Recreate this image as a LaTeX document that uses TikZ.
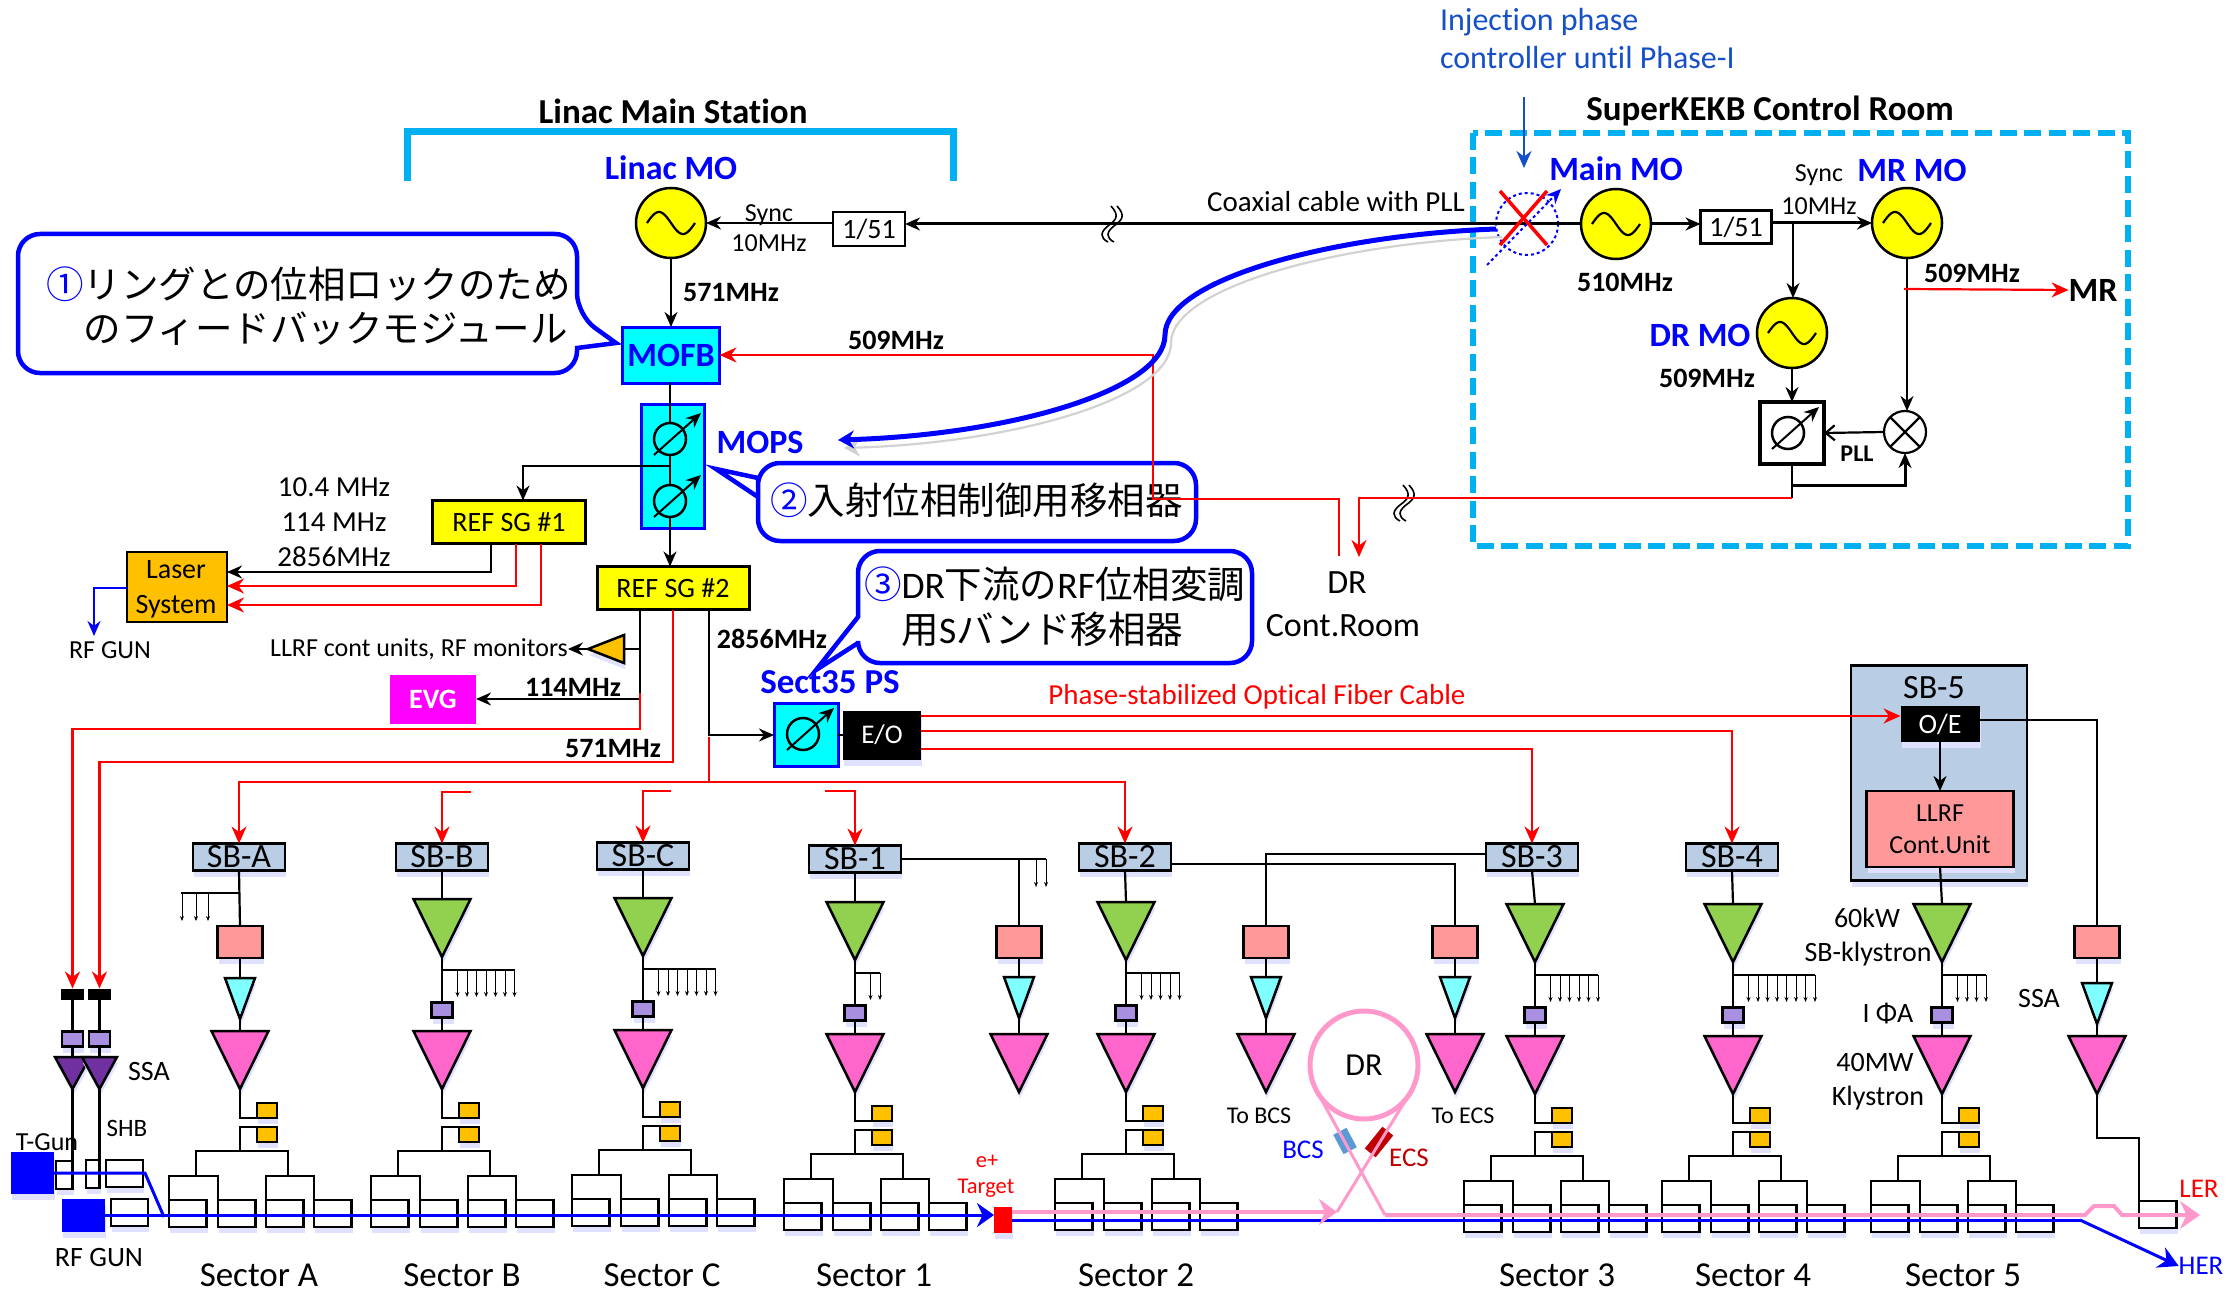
\documentclass[tikz,border=0pt]{standalone}
\usepackage{fontspec}
\setmainfont[Ligatures=NoCommon]{Carlito}
\newfontfamily\jp{Noto Sans CJK JP}
\usepackage{tikz}
\usetikzlibrary{arrows.meta, calc, shapes.geometric, shadows}
\definecolor{stn}{HTML}{00B0F0}
\definecolor{sbfill}{HTML}{B9CDE5}
\definecolor{llrffill}{HTML}{FF9999}
\definecolor{orng}{HTML}{FFC000}
\definecolor{mgnt}{HTML}{FF66CC}
\definecolor{grn}{HTML}{92D050}
\definecolor{cyn}{HTML}{7FFFFF}
\definecolor{cynb}{HTML}{00FFFF}
\definecolor{evgc}{HTML}{FF00FF}
\definecolor{ylw}{HTML}{FFFF00}
\definecolor{prpl}{HTML}{A98FE0}
\definecolor{dprp}{HTML}{7030A0}
\definecolor{pnk}{HTML}{FF99CC}
\definecolor{injb}{HTML}{1550C8}
\definecolor{bcsc}{HTML}{5B9BD5}
\definecolor{ecsc}{HTML}{C00000}
\tikzset{
  reg/.style={font=\fontsize{#1}{#1}\selectfont,inner sep=0pt,outer sep=0pt},
  bld/.style={font=\fontsize{#1}{#1}\selectfont\bfseries,inner sep=0pt,outer sep=0pt},
  shad/.style={drop shadow={shadow xshift=1pt,shadow yshift=-6pt,fill=blue!12,opacity=1}},
  bx/.style={draw,line width=2.5pt,inner sep=0pt,outer sep=0pt},
  tri/.style={isosceles triangle,isosceles triangle stretches,shape border rotate=270,
    draw,line width=2.5pt,inner sep=0pt,outer sep=0pt,anchor=lower side,shad},
  arr/.style={-{Stealth[length=15pt,width=13pt]}},
  redarr/.style={red,-{Stealth[length=17pt,width=15pt]}},
  fan/.style={line width=1pt,-{Stealth[length=5pt,width=4pt]}},
  callbox/.style={draw=blue,line width=4.5pt,fill=white},
  beam/.style={blue,line width=3pt},
  pink/.style={pnk,line width=4pt},
  osc/.style={circle,draw,fill=ylw,line width=2.5pt,minimum size=70pt,inner sep=0pt,outer sep=0pt},
  phs/.style={circle,draw,line width=2.5pt,minimum size=32pt,inner sep=0pt,outer sep=0pt},
  acc/.style={bx,fill=white,minimum width=37.5pt,minimum height=27pt,anchor=north west,shad},
  sbbox/.style={bx,fill=sbfill,minimum width=92pt,minimum height=27pt,reg=34,shad},
}
\begin{document}
\begin{tikzpicture}[x=1pt,y=-1pt,line width=2.2pt]
\useasboundingbox (0,0) rectangle (2230,1292);
\draw[stn,line width=7pt] (407,181)--(407,132)--(953,132)--(953,181);
\draw[stn,line width=6.5pt,dash pattern=on 17pt off 7.5pt] (1473,133) rectangle (2128,546);
\node[bld=35] (linactitle) at (673,111) {Linac Main Station};
\node[bld=35] (kektitle) at (1770,111) {SuperKEKB Control Room};
\node[reg=32,text=injb,align=left,anchor=west,font=\fontsize{32}{38}\selectfont] (inj) at (1440,39) {Injection phase\\controller until Phase-I};
\draw[callbox,rounded corners=22pt] (18,300)--(18,234)--(577,234)--(577,315)[sharp corners]--(616,343)--(577,348)[rounded corners=22pt]--(577,373)--(18,373)--cycle;
\draw[callbox,rounded corners=22pt] (758,500)--(758,463)--(1196,463)--(1196,541)--(758,541)[sharp corners]--(758,497)--(716,469)--(758,478)--cycle;
\draw[callbox,rounded corners=22pt] (858,600)--(858,551)--(1252,551)--(1252,663)--(858,663)[sharp corners]--(858,643)--(816,670)--(858,617)--cycle;
\node[reg=37,align=left,anchor=west,font=\fontsize{37.5}{44}\selectfont\jp] (cap1) at (46,306) {\textcolor{blue}{①}リングとの位相ロックのため\\\phantom{①}のフィードバックモジュール};
\node[reg=37,anchor=west,font=\fontsize{37.5}{44}\selectfont\jp] (cap2) at (770,500) {\textcolor{blue}{②}入射位相制御用移相器};
\node[reg=37,align=left,anchor=west,font=\fontsize{37.5}{45}\selectfont] (cap3) at (864,607) {{\jp\textcolor{blue}{③}}DR{\jp 下流の}RF{\jp 位相変調}\\\phantom{{\jp ③}}{\jp 用}S{\jp バンド移相器}};
\foreach \n/\x/\y in {lmo/671/223,mmo/1616/224,mrmo/1907/223,drmo/1792/333}{
  \node[osc] (\n) at (\x,\y) {};
  \draw[shift={(\x,\y)},domain=-24:24,samples=40,variable=\t] plot ({\t},{11*sin(7.5*\t)});
}
\node[bld=34,text=blue] (lmot) at (671,168) {Linac MO};
\node[bld=34,text=blue] (mmot) at (1616,169) {Main MO};
\node[bld=34,text=blue] (mrmot) at (1912,170) {MR MO};
\node[bld=34,text=blue] (drmot) at (1700,335) {DR MO};
\node[bx,reg=28,minimum width=72pt,minimum height=34pt,text height=19pt,text depth=0pt] (div1) at (869,229) {1/51};
\node[bx,reg=28,minimum width=71pt,minimum height=33pt,text height=19pt,text depth=0pt] (div2) at (1736,227) {1/51};
\node[bx,draw=blue,fill=cynb,bld=34,text=blue,minimum width=97pt,minimum height=56pt,line width=3pt] (mofb) at (671,355) {MOFB};
\node[bx,draw=blue,fill=cynb,minimum width=63pt,minimum height=124pt,line width=3pt] (mops) at (673,466) {};
\node[bx,draw=blue,fill=cynb,minimum width=64pt,minimum height=63pt,line width=3pt] (pssh) at (806,735) {};
\node[bx,line width=4pt,fill=white,minimum width=64pt,minimum height=62pt] (pspll) at (1792,433) {};
\foreach \n/\x/\y in {psa/670/439,psb/670/501,psc/803/734,psd/1788/433}{
  \node[phs] (\n) at (\x,\y) {};
  \draw[arr,line width=2pt] ([shift={(-16,16)}]\n.center) -- ([shift={(31,-26)}]\n.center);
}
\node[bld=34,text=blue] (mopst) at (760,442) {MOPS};
\node[bx,fill=ylw,reg=28,minimum width=153pt,minimum height=43pt,line width=3pt] (sg1) at (509,522) {REF SG \#1};
\node[bx,fill=ylw,reg=28,minimum width=152pt,minimum height=43pt,line width=3pt] (sg2) at (673,588) {REF SG \#2};
\node[bx,fill=orng,minimum width=100pt,minimum height=70pt] (laser) at (177,587) {};
\node[reg=28,align=center,font=\fontsize{28}{35}\selectfont] (lasert) at (176,589) {Laser\\System};
\node[fill=evgc,bld=28,text=white,minimum width=86pt,minimum height=49pt] (evg) at (433,699) {EVG};
\node[fill=black,reg=27,text=white,minimum width=78pt,minimum height=49pt,shad] (eo) at (882,735) {E/O};
\node[bx,fill=sbfill,minimum width=176pt,minimum height=215pt,shad] (sb5) at (1939,773) {};
\node[reg=34] (sb5t) at (1934,688) {SB-5};
\node[fill=black,reg=28,text=white,minimum width=79pt,minimum height=36pt,shad] (oe) at (1940,724) {O/E};
\node[bx,fill=llrffill,reg=26,align=center,minimum width=147pt,minimum height=76pt,font=\fontsize{26}{32}\selectfont,shad] (ll5) at (1940,829) {LLRF\\Cont.Unit};
\node[tri,fill=orng,shape border rotate=180,minimum width=28pt,minimum height=36pt,anchor=lower side] (trimon) at (624,649) {};
\node[circle,draw,minimum size=42pt,inner sep=0pt,outer sep=0pt] (mix) at (1905,432) {};
\draw (mix.north east)--(mix.south west) (mix.north west)--(mix.south east);
\node[circle,draw=blue,dashed,line width=2pt,minimum size=62pt,inner sep=0pt,outer sep=0pt] (xps) at (1527,224) {};
\foreach \n/\l/\x/\y in {a/A/239/857,b/B/442/857,c/C/643/856,1/1/855/859,2/2/1125/857,3/3/1532/857,4/4/1732/857}
  \node[sbbox] (sb\n) at (\x,\y) {SB-\l};
\foreach \n/\x/\dy/\s/\lx in {a/240/0/A/259,b/442/0/B/462,c/643/-1/C/662,1/855/3/1/874,2/1126/3/2/1136,3/1535/5/3/1557,4/1733/5/4/1753,5/1942/5/5/1963}{
  \node[tri,fill=mgnt,minimum width=57pt,minimum height=58pt] (mg\n) at (\x,{1031+\dy}) {};
  \node[bx,fill=orng,minimum width=20pt,minimum height=15pt,shad] (ora\n) at ({\x+27},{1110.5+\dy}) {};
  \node[bx,fill=orng,minimum width=20pt,minimum height=15pt,shad] (orb\n) at ({\x+27},{1134.5+\dy}) {};
  \draw (mg\n.apex) |- (ora\n.south west);
  \coordinate (rt\n) at (\x,{1151+\dy});
  \draw (orb\n.north west) -| (rt\n);
  \foreach \k/\off in {1/-71,2/-22,3/26,4/74}
    \node[acc] (ac\n\k) at ({\x+\off},{1200+\dy}) {};
  \coordinate (tl\n) at ({\x-44},{1176+\dy});
  \coordinate (tr\n) at ({\x+48},{1176+\dy});
  \draw (tl\n) |- (rt\n) -| (tr\n);
  \draw (ac\n1.north west) |- (tl\n) -| (ac\n2.north west);
  \draw (ac\n3.north west) |- (tr\n) -| (ac\n4.north west);
  \node[reg=35] (sec\n) at (\lx,1275) {Sector \s};
}
\foreach \n/\x/\dy/\cnt in {b/442/0/7,c/643/-1/7,1/855/3/2,2/1126/3/5,3/1535/5/6,4/1733/5/8,5/1942/5/4}{
  \node[tri,fill=grn,minimum width=57pt,minimum height=58pt] (gr\n) at (\x,{899+\dy}) {};
  \node[bx,fill=prpl,minimum width=21pt,minimum height=15pt,shad] (pu\n) at (\x,{1010+\dy}) {};
  \coordinate (fan\n) at (\x,{970+\dy});
  \draw (gr\n.apex) -- (pu\n.north);
  \draw (pu\n.south) -- (mg\n.lower side);
  \draw[line width=1.6pt] (fan\n) -- ++({6+9.5*\cnt},0);
  \foreach \i in {1,...,\cnt} \draw[fan] ([xshift=6pt+9.5pt*\i]fan\n) -- ++(0,27);
}
\foreach \n/\x/\ym in {h/1019/1034,i/1266/1034,j/1455/1034,k/2097/1036}
  \node[tri,fill=mgnt,minimum width=57pt,minimum height=58pt] (mg\n) at (\x,\ym) {};
\foreach \n/\x/\yc in {a/240/978,h/1019/977,i/1266/977,j/1455/977,k/2097/983}{
  \node[bx,fill=llrffill,minimum width=45pt,minimum height=32pt,shad] (ll\n) at (\x,942) {};
  \node[tri,fill=cyn,minimum width=30pt,minimum height=41pt] (cy\n) at (\x,\yc) {};
  \draw (ll\n.south) -- (cy\n.lower side);
  \draw (cy\n.apex) -- (mg\n.lower side);
}
\draw (sba.south) -- (lla.north);
\coordinate (fana) at (239,893);
\draw[line width=1.6pt] (fana) -- ++(-58,0);
\foreach \i in {-57,-43,-31} \draw[fan] ([xshift=\i pt]fana) -- ++(0,28);
\foreach \n in {b,c,1,2,3,4} \draw (sb\n.south) -- (gr\n.lower side);
\draw (ll5.south) -- (gr5.lower side);
\draw (sb1.east) -| (llh.north);
\coordinate (fans) at (1019,859);
\draw[line width=1.6pt] (fans) -- ++(27,0);
\foreach \i in {17,27} \draw[fan] ([xshift=\i pt]fans) -- ++(0,28);
\draw ([yshift=-7pt]sb2.east) -| (llj.north);
\draw ([yshift=3pt]sb3.west) -| (lli.north);
\node[acc] (ack) at (2139,1201) {};
\coordinate (ssabnd) at (2139,1138);
\draw (mgk.apex) |- (ssabnd) -- (ack.north west);
\draw ([yshift=4pt]oe.east) -| (llk.north);
\draw[arr] (oe.south) -- (ll5.north);
\foreach \n/\x in {blka/72.5,blkb/99.5}{
  \node[fill=black,minimum width=23pt,minimum height=11pt,inner sep=0pt,outer sep=0pt] (\n) at (\x,994) {};
  \node[bx,fill=prpl,minimum width=21pt,minimum height=15pt,shad] (pur\n) at (\x,1039) {};
  \node[tri,fill=dprp,minimum width=35pt,minimum height=32pt] (dp\n) at (\x,1057) {};
  \draw (\n.south) -- (pur\n.north);
  \draw (pur\n.south) -- (dp\n.lower side);
}
\node[fill=blue,minimum width=43pt,minimum height=42pt,inner sep=0pt,outer sep=0pt,shad] (tgun) at (32.5,1173) {};
\node[fill=blue,minimum width=43pt,minimum height=33pt,inner sep=0pt,outer sep=0pt,shad] (rfg) at (83.5,1215) {};
\node[bx,fill=white,minimum width=17pt,minimum height=28pt,shad] (shba) at (64.5,1175) {};
\node[bx,fill=white,minimum width=14pt,minimum height=28pt,shad] (shbb) at (93,1174) {};
\node[bx,fill=white,minimum width=37pt,minimum height=27pt,shad] (shbc) at (124.5,1173.5) {};
\node[bx,fill=white,minimum width=37pt,minimum height=27pt,shad] (acrf) at (129.5,1212.5) {};
\draw (dpblka.apex) -- (dpblka.apex |- shba.south);
\draw (dpblkb.apex) -- (dpblkb.apex |- shbb.south);
\coordinate (bma) at (145,1173);
\coordinate (bmb) at (164,1217);
\coordinate (bmc) at (2080,1220);
\node[fill=red,minimum width=18pt,minimum height=26pt,inner sep=0pt,outer sep=0pt,shad] (tgt) at (1003,1220) {};
\node[reg=27,text=blue] (her) at (2201,1266) {HER};
\node[reg=27,text=red] (ler) at (2199,1189) {LER};
\draw[beam] (tgun.east) -- (bma) -- (bmb);
\draw[beam,-{Stealth[length=17pt,width=24pt]}] (rfg.east) -- (rfg.east -| tgt.west);
\draw[beam] (tgt.east) -- (bmc);
\draw[beam,-{Stealth[length=20pt,width=22pt]}] (bmc) -- (her.west);
\node[circle,draw=pnk,line width=5pt,minimum size=108pt,inner sep=0pt,outer sep=0pt] (ring) at (1364,1065) {};
\node[reg=32] (ringt) at (1364,1065) {DR};
\node[fill=ecsc,rotate=51,minimum width=28pt,minimum height=14pt,inner sep=0pt,outer sep=0pt] (ecs) at (1379,1142) {};
\node[fill=bcsc,rotate=-62,minimum width=22pt,minimum height=15pt,inner sep=0pt,outer sep=0pt] (bcs) at (1345,1141) {};
\coordinate (drin) at (1337,1212);
\coordinate (lerend) at (2200,1215);
\coordinate (lnk) at (1385,1215);
\coordinate (lerarr) at (2160,1215);
\coordinate (drarr) at (1300,1212);
\draw[pink,line width=3pt] (ring.325) -- (drin);
\draw[pink,line width=3pt] (ring.206) -- (lnk);
\draw[pink] ([yshift=8pt]tgt.east) -- ([xshift=-2pt]drin);
\draw[pnk,-{Stealth[length=18pt,width=26pt]},line width=4pt] (drarr) -- (drin);
\draw[pink] (lnk) -- ++(700,0) -- ++(9,-9) -- ++(20,0) -- ++(8,9) -- (lerarr);
\draw[pnk,-{Stealth[length=20pt,width=28pt]},line width=4pt] (lerarr) -- (lerend);
\draw[line width=3pt,arr] (mmo.west) -- (mmo.west -| div1.east);
\draw[arr] (div1.west |- lmo.east) -- (lmo.east);
\coordinate (brka) at (1114,224);
\coordinate (brkb) at (1406,503);
\foreach \b in {brka,brkb} \foreach \d in {0,-6}
  \draw[shift={(\b)},xshift=\d pt,line width=1.6pt] (3,-18) .. controls (12,-8) and (8,-4) .. (0,2) .. controls (-8,8) and (-8,14) .. (0,18);
\draw[arr] (lmo.south) -- (mofb.north);
\draw (mofb.south -| psa) -- (psa.north);
\draw (psa.south) -- (psb.north);
\draw[arr] (psb.south) -- (psb.south |- sg2.north);
\coordinate (mopsbr) at (670,466);
\draw[arr] (mopsbr) -| ([xshift=14pt]sg1.north);
\draw[arr] ([xshift=-18pt]sg1.south) |- ([yshift=15pt]laser.east);
\draw[redarr] ([xshift=7pt]sg1.south) |- ([yshift=1pt]laser.east);
\draw[redarr] ([xshift=32pt]sg1.south) |- ([yshift=-18pt]laser.east);
\coordinate (rfgunin) at (94,636);
\draw[blue,-{Stealth[length=15pt,width=13pt]}] ([yshift=-1pt]laser.west) -| (rfgunin);
\draw[arr] ([xshift=-33pt]sg2.south) |- (evg.east);
\coordinate (sgmon) at (640,649);
\draw (sgmon) -- (trimon.lower side);
\node[reg=26] (mont) at (419,649) {LLRF cont units, RF monitors};
\draw[arr] (trimon.apex) -- (mont.east);
\coordinate (evgred) at (640,693);
\coordinate (rfa) at (72.5,729);
\coordinate (rfb) at (99.5,762);
\draw[redarr] (evgred) |- (rfa) -- (blka.north);
\draw[redarr] (sg2.south) |- (rfb) -- (blkb.north);
\draw[arr] ([xshift=36pt]sg2.south) |- (pssh.west);
\coordinate (redj) at (709,782);
\coordinate (redt) at (709,737);
\draw[red] (redt) -- (redj);
\draw[redarr] (redj) -| (sba.north);
\draw[redarr] (redj) -| (sb2.north);
\coordinate (stbb) at (471,792);
\coordinate (stbc) at (671,791);
\coordinate (stba) at (825,791);
\draw[redarr] (stbb) -| (sbb.north);
\draw[redarr] (stbc) -| (sbc.north);
\draw[redarr] (stba) -| (sb1.north);
\draw (pssh.east) -- (eo.west);
\draw[redarr] ([yshift=19pt]eo.east) -- ([yshift=8pt]oe.west);
\draw[redarr] ([yshift=4pt]eo.east) -| (sb4.north);
\draw[redarr] ([yshift=-14pt]eo.east) -| (sb3.north);
\draw[line width=3pt,arr] (mmo.east) -- (mmo.east -| div2.west);
\draw[line width=3pt,arr] (div2.east |- mrmo.west) -- (mrmo.west);
\coordinate (syncbr) at (1793,223);
\draw[arr] (syncbr) -- (drmo.north -| syncbr);
\draw[arr] (drmo.south) -- (pspll.north);
\draw[arr] (mrmo.south) -- (mix.north -| mrmo);
\draw[-{Straight Barb[length=9pt,width=15pt]}] (mix.west) -- (pspll.east);
\coordinate (pllbr) at (1792,485);
\coordinate (drrt) at (1792,498);
\draw (pspll.south) -- (drrt);
\draw[line width=3pt,arr] (pllbr) -| (mix.south);
\coordinate (drin2) at (1359,557);
\coordinate (droff) at (1339,556);
\coordinate (rfup) at (1153,499);
\draw[redarr] (drrt) -| (drin2);
\draw[redarr] (droff) |- (rfup) |- (mofb.east);
\node[bld=34] (mrt) at (2093,290) {MR};
\coordinate (mrbr) at (1904,289);
\draw[redarr] (mrbr) -- (mrt.west);
\coordinate (injt) at (1524,97);
\coordinate (inje) at (1524,168);
\draw[injb,-{Stealth[length=17pt,width=15pt]}] (injt) -- (inje);
\draw[blue,dashed,line width=2pt,-{Stealth[length=15pt,width=13pt]}] ([shift={(-40,41)}]xps.center) -- ([shift={(34,-35)}]xps.center);
\draw[red,line width=3.5pt] ([shift={(-27,-33)}]xps.center) -- ([shift={(20,21)}]xps.center);
\draw[red,line width=3.5pt] ([shift={(20,-33)}]xps.center) -- ([shift={(-27,21)}]xps.center);
\coordinate (mopsin) at (838,440);
\draw[blue,line width=5pt,-{Stealth[length=16pt,width=18pt]},preaction={draw=gray!35,transform canvas={shift={(6pt,-8pt)}}}] ([yshift=-5pt]xps.west) .. controls (1330,235) and (1165,280) .. (1165,335) .. controls (1165,390) and (1010,435) .. (mopsin);
\node[reg=26] (syncl) at (769,215) {Sync};
\node[reg=26] (synclb) at (769,243) {10MHz};
\node[reg=26] (syncr) at (1819,175) {Sync};
\node[reg=26] (syncrb) at (1819,206) {10MHz};
\node[bld=28] (fa) at (731,293) {571MHz};
\node[bld=28] (fb) at (896,340) {509MHz};
\node[reg=29] (fc) at (334,487) {10.4 MHz};
\node[reg=29] (fd) at (334,522) {114 MHz};
\node[reg=29] (fe) at (334,557) {2856MHz};
\node[bld=28] (ff) at (573,687) {114MHz};
\node[bld=28] (fg) at (613,748) {571MHz};
\node[bld=28] (fh) at (772,639) {2856MHz};
\node[bld=28] (fi) at (1625,282) {510MHz};
\node[bld=28] (fj) at (1707,378) {509MHz};
\node[bld=28] (fk) at (1972,273) {509MHz};
\node[bld=24] (pllt) at (1857,454) {PLL};
\node[reg=29] (coax) at (1336,202) {Coaxial cable with PLL};
\node[bld=35,text=blue] (sectt) at (830,682) {Sect35 PS};
\node[reg=29,text=red] (fiber) at (1257,697) {Phase-stabilized Optical Fiber Cable};
\node[reg=34] (drra) at (1347,583) {DR};
\node[reg=34] (drrb) at (1343,626) {Cont.Room};
\node[reg=26] (rfgl) at (110,650) {RF GUN};
\node[reg=28] (rfgb) at (99,1258) {RF GUN};
\node[reg=28] (ssaa) at (149,1072) {SSA};
\node[reg=25] (shbt) at (127,1128) {SHB};
\node[reg=26] (tgunt) at (47,1142) {T-Gun};
\node[reg=24] (tobcs) at (1259,1116) {To BCS};
\node[reg=24] (toecs) at (1463,1116) {To ECS};
\node[reg=27,text=blue] (bcst) at (1303,1150) {BCS};
\node[reg=27,text=ecsc] (ecst) at (1409,1158) {ECS};
\node[reg=22.5,text=red] (ep) at (987,1161) {e+};
\node[reg=22.5,text=red] (targ) at (986,1188) {Target};
\node[reg=28] (kwa) at (1867,918) {60kW};
\node[reg=28] (kwb) at (1868,954) {SB-klystron};
\node[reg=28] (ipa) at (1888,1014) {I ΦA};
\node[reg=28] (mwa) at (1875,1063) {40MW};
\node[reg=28] (mwb) at (1878,1098) {Klystron};
\node[reg=28] (ssab) at (2039,999) {SSA};
\end{tikzpicture}
\end{document}
